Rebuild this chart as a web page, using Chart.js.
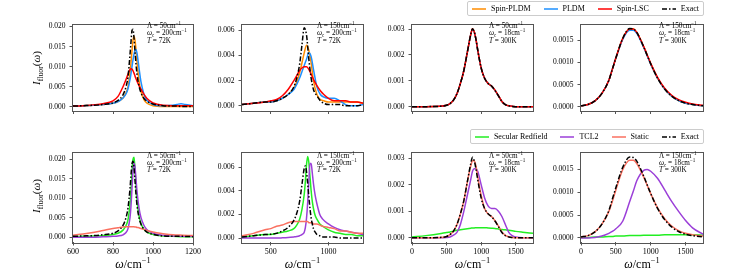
<!DOCTYPE html>
<html><head><meta charset="utf-8">
<script src="https://cdn.jsdelivr.net/npm/chart.js@4/dist/chart.umd.min.js"></script>
<style>
body{margin:0;background:#fff;}
#fig{position:relative;width:732px;height:275px;overflow:hidden;font-family:"Liberation Serif","DejaVu Serif",serif;color:#000;background:#fff;}
canvas.pc{position:absolute;}
.ann{position:absolute;font-size:7.2px;line-height:7.4px;white-space:nowrap;}
.ylab{position:absolute;font-size:11px;white-space:nowrap;transform:translate(-50%,-50%) rotate(-90deg);}
.xlab{position:absolute;font-size:12px;white-space:nowrap;transform:translate(-50%,-50%);}
.leg{position:absolute;right:28px;height:15px;border:1px solid #ccc;border-radius:2px;display:flex;align-items:center;padding:0 4px;font-size:8px;gap:13px;background:#fff;box-sizing:border-box;}
.ent{display:flex;align-items:center;gap:5px;}
i{font-style:italic;}
sub,sup{font-size:70%;line-height:0;}
</style></head>
<body>
<div id="fig"></div>
<script>
// ---------------- DATA ----------------
// Panel 1 (top): Λ=50, ωc=200, T=72K
const p1_x = [600,650,700,750,800,825,850,865,875,885,890,895,900,905,910,915,920,930,940,955,970,1000,1050,1100,1120,1140,1160,1200];
const p1_spinPLDM = [0.0002,0.0003,0.0004,0.0006,0.0009,0.0013,0.0022,0.0035,0.0050,0.0085,0.0110,0.0140,0.0166,0.0175,0.0166,0.0142,0.0112,0.0066,0.0038,0.0018,0.0009,0.0003,0.0001,0.0001,0.0001,0.0001,0.0001,0.0001];
const p1_PLDM = [0.0002,0.0003,0.0004,0.0006,0.0009,0.0013,0.0022,0.0032,0.0045,0.0068,0.0083,0.0100,0.0117,0.0131,0.0141,0.0143,0.0134,0.0097,0.0062,0.0031,0.0016,0.0006,0.0003,0.0004,0.0006,0.0008,0.0006,0.0003];
const p1_spinLSC = [0.0002,0.0003,0.0005,0.0008,0.0015,0.0026,0.0050,0.0068,0.0082,0.0093,0.0095,0.0094,0.0090,0.0084,0.0077,0.0070,0.0064,0.0053,0.0044,0.0031,0.0021,0.0010,0.0004,0.0003,0.0003,0.0003,0.0003,0.0003];
const p1_exact = [0.0002,0.0003,0.0004,0.0006,0.0010,0.0016,0.0030,0.0050,0.0075,0.0130,0.0162,0.0190,0.0193,0.0172,0.0138,0.0106,0.0082,0.0052,0.0035,0.0021,0.0014,0.0007,0.0003,0.0002,0.0002,0.0001,0.0001,0.0001];

// Panel 2 (top): Λ=150, ωc=200, T=72K
const p2_x = [250,350,450,500,550,600,650,700,725,750,770,790,810,830,850,870,900,930,960,1000,1050,1100,1150,1200,1250,1300];
const p2_spinPLDM = [0.0001,0.0002,0.0003,0.0003,0.0004,0.0006,0.0009,0.0014,0.0019,0.0026,0.0034,0.0042,0.0048,0.0044,0.0034,0.0020,0.0009,0.0005,0.0004,0.0003,0.0003,0.0003,0.0003,0.0003,0.0003,0.0002];
const p2_PLDM = [0.0001,0.0002,0.0003,0.0003,0.0004,0.0006,0.0009,0.0013,0.0017,0.0022,0.0027,0.0032,0.0037,0.0042,0.0039,0.0029,0.0015,0.0009,0.0007,0.0006,0.0006,0.0004,0.0001,0.0000,0.0000,0.0001];
const p2_spinLSC = [0.0001,0.0002,0.0003,0.0004,0.0005,0.0008,0.0013,0.0020,0.0024,0.0028,0.0030,0.0031,0.0031,0.0029,0.0025,0.0021,0.0016,0.0012,0.0009,0.0006,0.0004,0.0004,0.0004,0.0003,0.0003,0.0002];
const p2_exact = [0.0001,0.0002,0.0003,0.0003,0.0004,0.0006,0.0009,0.0015,0.0022,0.0033,0.0048,0.0062,0.0056,0.0037,0.0022,0.0013,0.0008,0.0004,0.0002,0.0001,0.0001,0.0001,0.0000,0.0000,0.0000,0.0001];

// Panel 3 (top): Λ=50, ωc=18, T=300K
const p3_x = [0,200,400,500,550,600,650,700,750,800,850,875,900,925,950,1000,1050,1100,1150,1200,1250,1300,1350,1400,1500,1750];
const p3_spinPLDM = [0,0,0.00001,0.00005,0.00012,0.00025,0.0005,0.0009,0.0014,0.0021,0.0028,0.00301,0.0029,0.0026,0.0022,0.0015,0.0011,0.0009,0.0008,0.00063,0.00042,0.0002,0.00008,0.00003,0,0];
const p3_PLDM = [0,0,0.00001,0.00005,0.00012,0.00025,0.0005,0.0009,0.0014,0.0021,0.0028,0.00300,0.0029,0.0026,0.0022,0.0015,0.0011,0.0009,0.0008,0.00063,0.00042,0.0002,0.00008,0.00003,0,0];
const p3_spinLSC = [0,0,0.00001,0.00005,0.00012,0.00025,0.0005,0.0009,0.0014,0.0021,0.0028,0.00302,0.0029,0.0026,0.0022,0.0015,0.0011,0.0009,0.0008,0.00064,0.00043,0.0002,0.00008,0.00003,0,0];
const p3_exact = [0,0,0.00001,0.00005,0.00012,0.00025,0.0005,0.0009,0.0014,0.0021,0.0028,0.00302,0.0029,0.0026,0.0022,0.0015,0.0011,0.0009,0.0008,0.00063,0.00042,0.0002,0.00008,0.00003,0,0];

// Panel 4 (top): Λ=150, ωc=18, T=300K
const p4_x = [0,100,200,300,400,450,500,600,700,750,800,900,950,1000,1100,1200,1300,1400,1500,1600,1750];
const p4_spinPLDM = [0.00002,0.00005,0.00013,0.0003,0.0006,0.00085,0.0011,0.00155,0.00176,0.00176,0.00168,0.00135,0.00116,0.00097,0.00064,0.0004,0.00024,0.00014,0.00008,0.00005,0.00002];
const p4_PLDM = [0.00002,0.00005,0.00013,0.0003,0.0006,0.00085,0.0011,0.00153,0.00173,0.00173,0.00166,0.00134,0.00115,0.00096,0.00064,0.0004,0.00024,0.00014,0.00008,0.00005,0.00002];
const p4_spinLSC = [0.00002,0.00005,0.00013,0.0003,0.0006,0.00085,0.0011,0.00155,0.00176,0.00176,0.00168,0.00136,0.00117,0.00098,0.00066,0.00042,0.00026,0.00016,0.0001,0.00006,0.00003];
const p4_exact = [0.00002,0.00005,0.00013,0.0003,0.0006,0.00085,0.0011,0.00155,0.00177,0.00176,0.00168,0.00135,0.00116,0.00097,0.00064,0.0004,0.00024,0.00014,0.00008,0.00005,0.00002];

// Panel 5 (bottom): Λ=50, ωc=200, T=72K
const p5_x = [600,650,700,750,800,825,850,865,875,885,890,895,900,905,910,915,920,930,940,955,970,1000,1050,1100,1150,1200];
const p5_secular = [0.0001,0.0002,0.0003,0.0004,0.0007,0.0010,0.0018,0.0030,0.0045,0.0085,0.0120,0.0165,0.0200,0.0205,0.0175,0.0130,0.0095,0.0055,0.0035,0.0020,0.0013,0.0007,0.0003,0.0002,0.0001,0.0001];
const p5_tcl2 = [0,0,0,0.0001,0.0002,0.0003,0.0006,0.0012,0.0022,0.0050,0.0080,0.0125,0.0170,0.0190,0.0180,0.0150,0.0118,0.0075,0.0050,0.0030,0.0019,0.0010,0.0005,0.0003,0.0002,0.0002];
const p5_static = [0.0005,0.0008,0.0012,0.0017,0.0022,0.0024,0.0026,0.0027,0.0027,0.0027,0.0027,0.0027,0.0027,0.0027,0.0026,0.0026,0.0025,0.0024,0.0022,0.0020,0.0017,0.0013,0.0009,0.0006,0.0005,0.0004];
const p5_exact = [0.0002,0.0003,0.0004,0.0006,0.0010,0.0016,0.0030,0.0050,0.0075,0.0125,0.0160,0.0188,0.0195,0.0180,0.0145,0.0110,0.0082,0.0050,0.0033,0.0020,0.0013,0.0007,0.0003,0.0002,0.0002,0.0001];

// Panel 6 (bottom): Λ=150, ωc=200, T=72K
const p6_x = [250,350,450,500,550,600,650,700,725,750,770,790,800,810,820,830,840,850,860,870,885,900,925,950,1000,1050,1100,1150,1200,1250,1300];
const p6_secular = [0.0001,0.0002,0.0003,0.0003,0.0004,0.0005,0.0006,0.0008,0.0011,0.0016,0.0024,0.0037,0.0048,0.0062,0.0069,0.0064,0.0052,0.0040,0.0031,0.0025,0.0019,0.0016,0.0012,0.0010,0.0007,0.0005,0.0004,0.0003,0.0003,0.0002,0.0002];
const p6_tcl2 = [0,0,0,0,0,0.00002,0.00005,0.0001,0.00013,0.0002,0.0003,0.0005,0.0009,0.0017,0.0030,0.0048,0.0063,0.0063,0.0055,0.0046,0.0036,0.0029,0.0020,0.0016,0.0012,0.0009,0.0007,0.0006,0.0005,0.0004,0.0003];
const p6_static = [0.0002,0.0004,0.0007,0.0008,0.0010,0.0011,0.0013,0.0014,0.0014,0.0014,0.0014,0.0014,0.0014,0.0014,0.0014,0.0013,0.0013,0.0013,0.0013,0.0012,0.0012,0.0012,0.0011,0.0010,0.0009,0.0008,0.0006,0.0006,0.0005,0.0004,0.0004];
const p6_exact = [0.0001,0.0002,0.0003,0.00033,0.0004,0.0006,0.0009,0.0015,0.0021,0.0031,0.0045,0.0059,0.0061,0.0056,0.0046,0.0035,0.0025,0.0017,0.0012,0.0008,0.0005,0.0003,0.0002,0.0001,0.0001,0.0001,0,0,0,0,0];

// Panel 7 (bottom): Λ=50, ωc=18, T=300K
const p7_x = [0,200,400,500,550,600,650,700,750,800,850,875,900,925,950,1000,1050,1100,1150,1200,1250,1300,1350,1400,1450,1500,1600,1750];
const p7_secular = [0.00003,0.00008,0.00015,0.0002,0.00022,0.00025,0.00028,0.0003,0.00032,0.00034,0.00036,0.00037,0.00037,0.00038,0.00038,0.00038,0.00038,0.00037,0.00036,0.00035,0.00033,0.00031,0.0003,0.00028,0.00026,0.00024,0.00021,0.00017];
const p7_tcl2 = [0,0,0,0.00001,0.00003,0.0001,0.0002,0.0005,0.0010,0.0016,0.0022,0.0025,0.0026,0.0026,0.0025,0.0020,0.0015,0.0012,0.0011,0.0011,0.0010,0.0008,0.0005,0.0002,0.00008,0.00003,0,0];
const p7_static = [0,0,0.00001,0.00005,0.00012,0.00025,0.0005,0.0009,0.0014,0.0021,0.0027,0.0029,0.0029,0.0027,0.0023,0.0016,0.0011,0.0009,0.0008,0.00064,0.00044,0.00022,0.00009,0.00004,0.00001,0,0,0];
const p7_exact = [0,0,0.00001,0.00005,0.00012,0.00025,0.0005,0.0009,0.0014,0.0021,0.0028,0.00303,0.0029,0.0026,0.0022,0.0015,0.0011,0.0009,0.0008,0.00063,0.00042,0.0002,0.00008,0.00003,0.00001,0,0,0];

// Panel 8 (bottom): Λ=150, ωc=18, T=300K
const p8_x = [0,100,200,300,400,450,500,600,700,750,800,900,950,1000,1100,1200,1300,1400,1500,1600,1750];
const p8_secular = [0.00001,0.00001,0.00002,0.00002,0.00003,0.00003,0.00004,0.00004,0.00005,0.00005,0.00005,0.00006,0.00006,0.00006,0.00006,0.00007,0.00007,0.00007,0.00007,0.00007,0.00006];
const p8_tcl2 = [0,0,0.00001,0.00004,0.0001,0.00014,0.0002,0.00037,0.0008,0.00102,0.00125,0.00148,0.0015,0.00146,0.0013,0.00105,0.0008,0.00058,0.00038,0.00022,0.00008];
const p8_static = [0.00002,0.00005,0.00013,0.0003,0.00058,0.0008,0.00105,0.0015,0.0017,0.0017,0.00163,0.00133,0.00115,0.00097,0.00065,0.00042,0.00026,0.00016,0.0001,0.00007,0.00004];
const p8_exact = [0.00002,0.00005,0.00013,0.0003,0.0006,0.00085,0.0011,0.00155,0.00177,0.00176,0.00168,0.00135,0.00116,0.00097,0.00064,0.0004,0.00024,0.00014,0.00008,0.00005,0.00002];

// Tick values
const xTicksA = [600,800,1000,1200];
const xTicksB = [500,1000];
const xTicksC = [0,500,1000,1500];
const yTicks1 = [0,0.005,0.010,0.015,0.020];
const yTicks2 = [0,0.002,0.004,0.006];
const yTicks3 = [0,0.001,0.002,0.003];
const yTicks4 = [0,0.0005,0.0010,0.0015];

// Legend labels
const topLabels = ['Spin-PLDM','PLDM','Spin-LSC','Exact'];
const botLabels = ['Secular Redfield','TCL2','Static','Exact'];

// ---------------- STYLE ----------------
const topColors = ['#ff8c00','#1e90ff','#ff0000','#000000'];
const botColors = ['#22ee22','#9b3fd8','#fa7060','#000000'];
const DASHDOT = [5,2,1.5,2];
const FONT = '"Liberation Serif","DejaVu Serif",serif';
const AX = '#555';

const fig = document.getElementById('fig');

const framePlugin = {
  id:'frame',
  afterDatasetsDraw(chart){
    const {ctx, chartArea:a} = chart;
    ctx.save();
    ctx.strokeStyle = AX; ctx.lineWidth = 1;
    ctx.strokeRect(Math.round(a.left)-0.5, Math.round(a.top)-0.5, Math.round(a.right-a.left)+1, Math.round(a.bottom-a.top)+1);
    ctx.restore();
  }
};

function makePanel(p){
  const YW = 45, PT = 6, PR = 12;
  const XH = p.bottomLabels ? 22 : 6;
  const w = YW + (p.box[2]-p.box[0]) + PR;
  const h = PT + (p.box[3]-p.box[1]) + XH;
  const c = document.createElement('canvas');
  c.className = 'pc'; c.width = w; c.height = h;
  c.style.left = (p.box[0]-YW)+'px'; c.style.top = (p.box[1]-PT)+'px';
  c.style.width = w+'px'; c.style.height = h+'px';
  fig.appendChild(c);
  const datasets = p.series.map((s,i)=>({
    label: s.label,
    data: p.x.map((xv,k)=>({x:xv, y:s.y[k]})),
    borderColor: s.color,
    backgroundColor: s.color,
    borderWidth: 1.5,
    borderDash: s.dash || [],
    pointRadius: 0,
    fill: false,
    cubicInterpolationMode: 'monotone',
    order: p.series.length - i
  }));
  new Chart(c, {
    type:'line',
    data:{datasets},
    options:{
      responsive:false, animation:false, devicePixelRatio:1,
      layout:{padding:{top:PT,right:PR,left:0,bottom:0}},
      plugins:{legend:{display:false}, tooltip:{enabled:false}},
      scales:{
        x:{
          type:'linear', min:p.xr[0], max:p.xr[1],
          afterBuildTicks:(s)=>{ s.ticks = p.xt.map(v=>({value:v})); },
          afterFit:(s)=>{ s.height = XH; },
          border:{display:false},
          grid:{display:true, drawOnChartArea:false, drawTicks:true, tickLength:3.5, tickColor:AX, color:AX, lineWidth:1},
          ticks:{display:!!p.bottomLabels, autoSkip:false, maxRotation:0, padding:1.5, color:'#000',
                 font:{family:FONT, size:8}, callback:(v)=>String(v)}
        },
        y:{
          type:'linear', min:p.yr[0], max:p.yr[1],
          afterBuildTicks:(s)=>{ s.ticks = p.yt.map(v=>({value:v})); },
          afterFit:(s)=>{ s.width = YW; },
          border:{display:false},
          grid:{display:true, drawOnChartArea:false, drawTicks:true, tickLength:3.5, tickColor:AX, color:AX, lineWidth:1},
          ticks:{autoSkip:false, padding:4, color:'#000', font:{family:FONT, size:7.5},
                 callback:(v)=>Number(v).toFixed(p.dec)}
        }
      }
    },
    plugins:[framePlugin]
  });
}

function topSeries(a,b,c,d){
  return [
    {label:topLabels[0], y:a, color:topColors[0]},
    {label:topLabels[1], y:b, color:topColors[1]},
    {label:topLabels[2], y:c, color:topColors[2]},
    {label:topLabels[3], y:d, color:topColors[3], dash:DASHDOT}
  ];
}
function botSeries(a,b,c,d){
  return [
    {label:botLabels[0], y:a, color:botColors[0]},
    {label:botLabels[1], y:b, color:botColors[1]},
    {label:botLabels[2], y:c, color:botColors[2]},
    {label:botLabels[3], y:d, color:botColors[3], dash:DASHDOT}
  ];
}

const TOPY = [22,113], BOTY = [150,242];
const COLS = [[73,193],[242,363],[412,533],[581,703]];

const panels = [
  {box:[COLS[0][0],TOPY[0],COLS[0][1],TOPY[1]], x:p1_x, xr:[600,1200], xt:xTicksA, yr:[-0.0009,0.0205], yt:yTicks1, dec:3, series:topSeries(p1_spinPLDM,p1_PLDM,p1_spinLSC,p1_exact)},
  {box:[COLS[1][0],TOPY[0],COLS[1][1],TOPY[1]], x:p2_x, xr:[250,1300], xt:xTicksB, yr:[-0.00037,0.00645], yt:yTicks2, dec:3, series:topSeries(p2_spinPLDM,p2_PLDM,p2_spinLSC,p2_exact)},
  {box:[COLS[2][0],TOPY[0],COLS[2][1],TOPY[1]], x:p3_x, xr:[0,1750], xt:xTicksC, yr:[-0.00015,0.00318], yt:yTicks3, dec:3, series:topSeries(p3_spinPLDM,p3_PLDM,p3_spinLSC,p3_exact)},
  {box:[COLS[3][0],TOPY[0],COLS[3][1],TOPY[1]], x:p4_x, xr:[0,1750], xt:xTicksC, yr:[-0.000086,0.00186], yt:yTicks4, dec:4, series:topSeries(p4_spinPLDM,p4_PLDM,p4_spinLSC,p4_exact)},
  {box:[COLS[0][0],BOTY[0],COLS[0][1],BOTY[1]], x:p5_x, xr:[600,1200], xt:xTicksA, yr:[-0.00125,0.02175], yt:yTicks1, dec:3, bottomLabels:true, series:botSeries(p5_secular,p5_tcl2,p5_static,p5_exact)},
  {box:[COLS[1][0],BOTY[0],COLS[1][1],BOTY[1]], x:p6_x, xr:[250,1300], xt:xTicksB, yr:[-0.00033,0.00723], yt:yTicks2, dec:3, bottomLabels:true, series:botSeries(p6_secular,p6_tcl2,p6_static,p6_exact)},
  {box:[COLS[2][0],BOTY[0],COLS[2][1],BOTY[1]], x:p7_x, xr:[0,1750], xt:xTicksC, yr:[-0.00016,0.00321], yt:yTicks3, dec:3, bottomLabels:true, series:botSeries(p7_secular,p7_tcl2,p7_static,p7_exact)},
  {box:[COLS[3][0],BOTY[0],COLS[3][1],BOTY[1]], x:p8_x, xr:[0,1750], xt:xTicksC, yr:[-0.00009,0.00187], yt:yTicks4, dec:4, bottomLabels:true, series:botSeries(p8_secular,p8_tcl2,p8_static,p8_exact)}
];
panels.forEach(makePanel);

// ---------------- TEXT OVERLAYS ----------------
function addDiv(cls, html, left, top){
  const d = document.createElement('div');
  d.className = cls; d.innerHTML = html;
  d.style.left = left+'px'; d.style.top = top+'px';
  fig.appendChild(d); return d;
}
const params = [['50','200','72'],['150','200','72'],['50','18','300'],['150','18','300']];
const annX = [147,317,489,659];
[23,152.5].forEach(ty=>{
  params.forEach((pr,i)=>{
    addDiv('ann', 'Λ = '+pr[0]+'cm<sup>−1</sup><br><i>ω</i><sub>c</sub> = '+pr[1]+'cm<sup>−1</sup><br><i>T</i> = '+pr[2]+'K', annX[i], ty);
  });
});
addDiv('ylab', '<i>I</i><sub>fluor</sub>(<i>ω</i>)', 36, 67.5);
addDiv('ylab', '<i>I</i><sub>fluor</sub>(<i>ω</i>)', 36, 196);
COLS.forEach(c=>addDiv('xlab', '<i>ω</i>/cm<sup>−1</sup>', (c[0]+c[1])/2, 264));

function legend(labels, colors, top){
  const d = document.createElement('div');
  d.className = 'leg'; d.style.top = top+'px';
  labels.forEach((l,i)=>{
    const e = document.createElement('div'); e.className='ent';
    const dash = (i===3) ? ' stroke-dasharray="5,2,1.5,2"' : '';
    e.innerHTML = '<svg width="14" height="4"><line x1="0" y1="2" x2="14" y2="2" stroke="'+colors[i]+'" stroke-width="1.5"'+dash+'/></svg><span>'+l+'</span>';
    d.appendChild(e);
  });
  fig.appendChild(d);
}
legend(topLabels, topColors, 1);
legend(botLabels, botColors, 129);
</script>
</body></html>
